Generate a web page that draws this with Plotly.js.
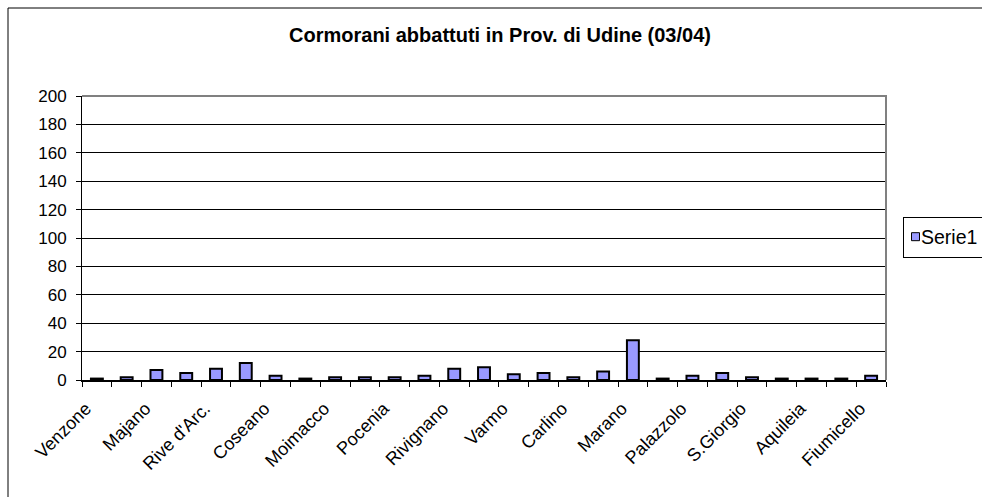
<!DOCTYPE html>
<html>
<head>
<meta charset="utf-8">
<script src="https://cdn.plot.ly/plotly-3.0.1.min.js"></script>
<style>
html,body{margin:0;padding:0;background:#fff;overflow:hidden;}
#chart{width:1040px;height:497px;}
</style>
</head>
<body>
<div id="chart"></div>
<script>
// Categories (every other name is shown on the axis, as in the original)
var categories = ["Venzone","Gemona","Majano","Ragogna","Rive d'Arc.","Fagagna","Coseano","Mereto","Moimacco","Cividale","Pocenia","Teor","Rivignano","Camino","Varmo","Latisana","Carlino","Muzzana","Marano","Precenicco","Palazzolo","Torviscosa","S.Giorgio","Cervignano","Aquileia","Terzo","Fiumicello"];
var shownLabels = ["Venzone","Majano","Rive d'Arc.","Coseano","Moimacco","Pocenia","Rivignano","Varmo","Carlino","Marano","Palazzolo","S.Giorgio","Aquileia","Fiumicello"];
var serie1 = [1,2,7,5,8,12,3,1,2,2,2,3,8,9,4,5,2,6,28,1,3,5,2,1,1,1,3];
var seriesName = "Serie1";
var chartTitle = "Cormorani abbattuti in Prov. di Udine (03/04)";

var tickText = categories.map(function(c){ return shownLabels.indexOf(c) >= 0 ? c : ""; });

var FAM = "Liberation Sans, Arial, sans-serif";
var font = {family: FAM, size: 17, color: "#000"};

var trace = {
  type: "bar",
  x: categories,
  y: serie1,
  name: seriesName,
  width: 0.4,
  marker: {color: "#9999FF", line: {color: "#000", width: 2}},
  showlegend: true
};

var W = 1040, L = 82, R = 886, T = 96, B = 380;
var pw = R - L, ph = B - T;

var layout = {
  width: W,
  height: 497,
  margin: {l: L, r: W - R, t: T, b: 497 - B, pad: 0},
  paper_bgcolor: "#fff",
  plot_bgcolor: "#fff",
  font: font,
  title: {text: "<b>" + chartTitle + "</b>", font: {family: FAM, size: 20, color: "#000"},
          x: (500 - L) / pw, xref: "paper", xanchor: "center", y: 1 - 35/497, yanchor: "middle"},
  xaxis: {
    type: "category",
    tickmode: "array",
    tickvals: categories,
    ticktext: tickText,
    tickson: "boundaries",
    ticks: "outside",
    ticklen: 5,
    tickcolor: "#000",
    tickwidth: 1,
    tickangle: -45,
    ticklabelstandoff: 9,
    ticklabelshift: -11,
    showline: true,
    linecolor: "#000",
    linewidth: 2,
    showgrid: false,
    zeroline: false,
    tickfont: {family: FAM, size: 18, color: "#000"},
    fixedrange: true
  },
  yaxis: {
    range: [0, 200],
    tickmode: "linear",
    tick0: 0,
    dtick: 20,
    ticks: "outside",
    ticklen: 5,
    tickcolor: "#000",
    ticklabelstandoff: 6,
    showline: true,
    linecolor: "#000",
    linewidth: 1,
    showgrid: true,
    gridcolor: "#000",
    gridwidth: 1,
    zeroline: false,
    tickfont: font,
    fixedrange: true
  },
  legend: {
    x: (903 - L) / pw,
    xanchor: "left",
    y: (B - 237) / ph,
    yanchor: "middle",
    bordercolor: "#000",
    borderwidth: 1,
    bgcolor: "#fff",
    font: {family: FAM, size: 19.5, color: "#000"},
    itemwidth: 30
  },
  shapes: [
    {type: "path", xref: "paper", yref: "paper", path: "M 0 1 L 1 1 L 1 0", line: {color: "#808080", width: 2}, layer: "above"},
    {type: "path", xref: "paper", yref: "paper",
     path: "M " + ((8 - L) / pw) + " " + ((B - 520) / ph) + " L " + ((8 - L) / pw) + " " + ((B - 8) / ph) + " L " + ((1040 - L) / pw) + " " + ((B - 8) / ph),
     line: {color: "#000", width: 1}, layer: "above"}
  ],
  bargap: 0.6
};

Plotly.newPlot("chart", [trace], layout, {displayModeBar: false, staticPlot: true}).then(function(gd){
  // tighten legend entry spacing (Excel style: small square right next to text)
  var txt = gd.querySelector(".legend .legendtext");
  if (txt) txt.setAttribute("x", 17);
  var sym = gd.querySelector(".legend .legendsymbols");
  if (sym) sym.setAttribute("transform", "translate(-8.5,0)");
  var p = gd.querySelector(".legend .legendpoints path");
  if (p) { p.setAttribute("d", "M4,4H-4V-4H4Z"); p.style.strokeWidth = "1px"; }
});
</script>
</body>
</html>
